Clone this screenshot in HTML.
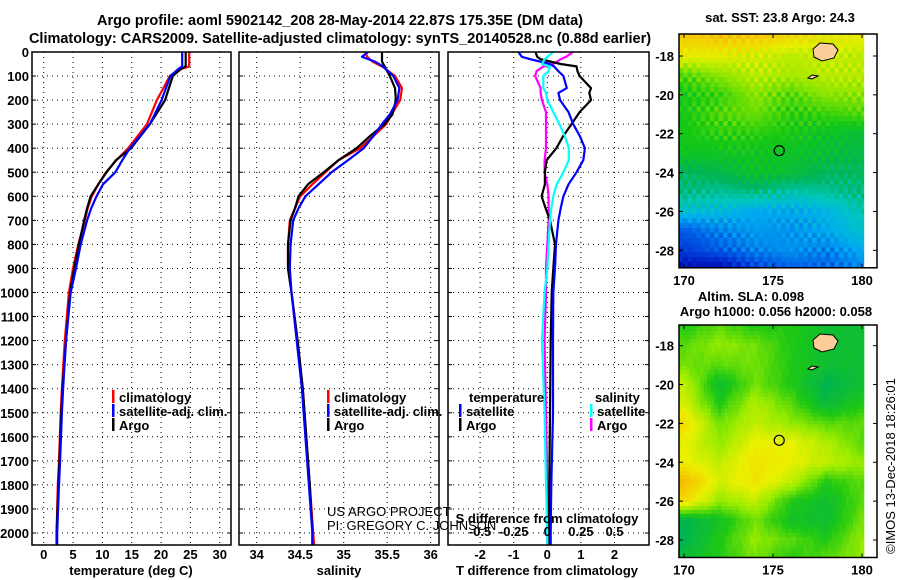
<!DOCTYPE html>
<html><head><meta charset="utf-8"><style>
body{margin:0;background:#fff}
svg{display:block;font-family:"Liberation Sans",sans-serif;font-weight:bold}
</style></head><body>
<svg id="c" width="900" height="580" xmlns="http://www.w3.org/2000/svg">
<text x="340" y="25" text-anchor="middle" font-size="14.5">Argo profile: aoml 5902142_208 28-May-2014 22.87S 175.35E (DM data)</text>
<text x="340" y="43" text-anchor="middle" font-size="14.5">Climatology: CARS2009. Satellite-adjusted climatology: synTS_20140528.nc (0.88d earlier)</text>
<g id="g"></g>
</svg>
<script>
// ---- data ----
const depthT = [0,60,70,100,200,300,400,450,500,550,600,650,700,800,900,1000,1200,1400,1500,1700,1800,2000,2050];
const tempClim = [24.8,24.8,23.5,21.5,19.3,17.6,14.4,12.4,10.6,9.3,8.2,7.5,7.0,5.9,5.0,4.3,3.6,3.1,2.9,2.6,2.4,2.2,2.2];
const tempSat  = [23.6,23.6,23.0,21.6,20.1,18.1,14.7,13.4,12.2,10.1,9.0,8.1,7.4,6.3,5.5,4.6,3.8,3.3,3.1,2.8,2.6,2.3,2.3];
const tempArgo = [24.2,24.2,23.4,22.0,20.7,18.1,14.9,12.3,10.7,9.3,8.0,7.4,6.9,6.0,5.2,4.5,3.8,3.2,3.0,2.7,2.5,2.2,2.2];
const depthS = [0,20,40,60,100,150,200,260,300,350,400,450,500,550,600,650,700,800,900,1000,1200,1400,1600,1800,2000,2050];
const salClim = [35.25,35.27,35.33,35.44,35.59,35.67,35.65,35.55,35.49,35.34,35.19,34.94,34.79,34.64,34.50,34.44,34.38,34.36,34.36,34.40,34.47,34.53,34.57,34.61,34.65,34.66];
const salSat  = [35.28,35.21,35.36,35.45,35.57,35.64,35.62,35.53,35.44,35.34,35.23,35.05,34.86,34.71,34.56,34.48,34.42,34.39,34.38,34.40,34.46,34.52,34.56,34.60,34.64,34.64];
const salArgo = [35.44,35.44,35.44,35.47,35.53,35.59,35.60,35.56,35.47,35.30,35.15,34.94,34.77,34.59,34.48,34.44,34.39,34.36,34.36,34.40,34.47,34.53,34.57,34.61,34.64,34.64];
const depthD = [0,20,30,50,60,80,100,150,170,200,250,300,350,400,450,500,550,600,650,700,800,900,1000,1200,1500,1800,2000,2050];
const dTArgo = [-0.35,-0.3,-0.2,0.4,0.87,0.9,0.96,1.3,1.25,1.3,0.96,0.72,0.47,0.27,-0.02,-0.07,-0.07,-0.17,-0.05,0.08,0.23,0.18,0.13,0.10,0.08,0.06,0.05,0.05];
const dTSat  = [-0.86,-0.76,-0.51,0.08,0.2,0.33,0.48,0.58,0.33,0.38,0.63,0.77,0.97,1.12,1.07,0.87,0.63,0.48,0.40,0.33,0.26,0.23,0.18,0.17,0.17,0.12,0.10,0.10];
const dSArgo = [0.19,0.14,0.1,0.045,-0.03,-0.08,-0.09,-0.05,-0.05,-0.04,-0.01,-0.01,-0.01,-0.01,-0.02,-0.02,0.0,0.01,0.01,0.01,0.0,-0.01,-0.01,-0.02,-0.01,0.0,0.0,0.0];
const dSSat  = [0.045,0.0,-0.02,-0.04,0.02,0.01,-0.03,-0.03,-0.01,0.0,0.045,0.09,0.13,0.16,0.16,0.12,0.07,0.045,0.03,0.02,0.01,0.0,-0.02,-0.04,-0.02,-0.01,0.0,0.0];
const depthTicks = [0,100,200,300,400,500,600,700,800,900,1000,1100,1200,1300,1400,1500,1600,1700,1800,1900,2000];
const tTicks = [0,5,10,15,20,25,30];
const sTicks = [34,34.5,35,35.5,36];
const dTTicks = [-2,-1,0,1,2];
const dSTicks = [-0.5,-0.25,0,0.25,0.5];
const dSLabels = ["-0.5","-0.25","0","0.25","0.5"];
const latTicks = [-18,-20,-22,-24,-26,-28];
const lonTicks = [170,175,180];
const sstGrid = [
[.82,.84,.83,.8,.76,.76],[.76,.75,.73,.7,.72,.7],[.6,.65,.7,.68,.7,.7],[.55,.58,.65,.6,.65,.65],
[.55,.6,.62,.57,.58,.6],[.55,.57,.57,.55,.52,.5],[.53,.53,.53,.52,.5,.48],[.45,.47,.52,.5,.45,.45],
[.42,.4,.42,.38,.4,.42],[.35,.33,.3,.3,.32,.38],[.2,.25,.28,.27,.3,.35],[.15,.2,.25,.27,.25,.3],[.06,.04,.15,.2,.2,.25]];
const slaGrid = [
[.55,.6,.55,.55,.5,.5],[.6,.65,.62,.55,.5,.5],[.62,.6,.62,.55,.5,.5],[.7,.5,.62,.55,.45,.5],
[.72,.55,.68,.6,.48,.55],[.8,.62,.7,.65,.6,.6],[.75,.65,.75,.75,.68,.6],[.75,.7,.78,.75,.7,.65],
[.88,.72,.78,.7,.55,.6],[.8,.65,.7,.55,.5,.6],[.45,.52,.62,.52,.5,.62],[.45,.55,.65,.6,.55,.65],[.5,.55,.62,.55,.6,.65]];
const argoLon = 175.35, argoLat = -22.87;

// ---- drawing ----
const NS="http://www.w3.org/2000/svg";
const G=document.getElementById('g');
function el(t,a,p){const e=document.createElementNS(NS,t);for(const k in a)e.setAttribute(k,a[k]);(p||G).appendChild(e);return e;}
function txt(x,y,s,fs,anchor,p){const e=el('text',{x:x,y:y,'font-size':fs,'text-anchor':anchor||'middle'},p);e.textContent=s;return e;}
const yD=d=>52+d*0.2405;
const Y0=52,Y1=545;
function panel(x0,x1,name){
  const g=el('g',{});
  
  
  return g;
}
function frame(g,x0,x1){el('rect',{x:x0,y:Y0,width:x1-x0,height:Y1-Y0,fill:'none',stroke:'#000','stroke-width':1.5},g);}
function hgrid(g,x0,x1){depthTicks.forEach(d=>{if(d>0)el('line',{x1:x0,x2:x1,y1:yD(d),y2:yD(d),stroke:'#000','stroke-width':1,'stroke-dasharray':'1,4'},g);
  el('line',{x1:x0,x2:x0+4,y1:yD(d),y2:yD(d),stroke:'#000'},g);el('line',{x1:x1-4,x2:x1,y1:yD(d),y2:yD(d),stroke:'#000'},g);});}
function vgrid(g,xs){xs.forEach(x=>{el('line',{x1:x,x2:x,y1:Y0,y2:Y1,stroke:'#000','stroke-width':1,'stroke-dasharray':'1,4'},g);});}
function step(g,xs,ds,col,name){
  let pts=[];for(let i=0;i<ds.length;i++){pts.push(xs[i].toFixed(1)+','+yD(ds[i]).toFixed(1));}
  const p=el('polyline',{points:pts.join(' '),fill:'none',stroke:col,'stroke-width':2.2,'stroke-linejoin':'round'},g);
  
  
}
const yl=el('g',{});


depthTicks.forEach(d=>txt(29,yD(d)+5,String(d),13,'end',yl));

// Panel 1 temperature
const xT=t=>43.7+t*5.867;
const p1=panel(32,231,'temperature-panel');
vgrid(p1,tTicks.map(xT));hgrid(p1,32,231);
step(p1,tempClim.map(xT),depthT,'#f00','climatology-temperature-line');
step(p1,tempArgo.map(xT),depthT,'#000','argo-temperature-line');
step(p1,tempSat.map(xT),depthT,'#00f','satellite-temperature-line');
frame(p1,32,231);
tTicks.forEach(t=>txt(xT(t),559,String(t),13,'middle',p1));
txt(131,575,'temperature (deg C)',13,'middle',p1);
function legend(g,x,y,items){items.forEach((it,i)=>{el('rect',{x:x,y:y+i*14-10,width:2.5,height:13,fill:it[0]},g);txt(x+7,y+i*14+2,it[1],13,'start',g);});}
legend(p1,112,400,[['#f00','climatology'],['#00f','satellite-adj. clim.'],['#000','Argo']]);

// Panel 2 salinity
const xS=s=>256.7+(s-34)*87;
const p2=panel(239,439,'salinity-panel');
vgrid(p2,sTicks.map(xS));hgrid(p2,239,439);
step(p2,salClim.map(xS),depthS,'#f00','climatology-salinity-line');
step(p2,salArgo.map(xS),depthS,'#000','argo-salinity-line');
step(p2,salSat.map(xS),depthS,'#00f','satellite-salinity-line');
frame(p2,239,439);
sTicks.forEach(s=>txt(xS(s),559,String(s),13,'middle',p2));
txt(339,575,'salinity',13,'middle',p2);
legend(p2,327,400,[['#f00','climatology'],['#00f','satellite-adj. clim.'],['#000','Argo']]);
const cr=el('g',{fill:'#000'});


txt(327,516,'US ARGO PROJECT',13,'start',cr).setAttribute('font-weight','normal');
txt(327,530,'PI: GREGORY C. JOHNSON',13,'start',cr).setAttribute('font-weight','normal');

// Panel 3 differences
const xDT=t=>547.3+t*33.6;
const xDS=s=>547.3+s*4*33.6;
const p3=panel(448,649,'difference-panel');
vgrid(p3,dTTicks.map(xDT));hgrid(p3,448,649);
step(p3,dSArgo.map(xDS),depthD,'#f0f','argo-salinity-diff-line');
step(p3,dTArgo.map(xDT),depthD,'#000','argo-temperature-diff-line');
step(p3,dTSat.map(xDT),depthD,'#00f','satellite-temperature-diff-line');
step(p3,dSSat.map(xDS),depthD,'#0ff','satellite-salinity-diff-line');
frame(p3,448,649);
dTTicks.forEach(t=>txt(xDT(t),559,String(t),13,'middle',p3));
txt(547,575,'T difference from climatology',13,'middle',p3);
txt(547,523,'S difference from climatology',13,'middle',p3);
dSTicks.forEach((s,i)=>txt(xDS(s),536,dSLabels[i],13,'middle',p3));
txt(469,402,'temperature',13,'start',p3);
legend(p3,459,414,[['#00f','satellite'],['#000','Argo']]);
txt(595,402,'salinity',13,'start',p3);
legend(p3,590,414,[['#0ff','satellite'],['#f0f','Argo']]);

// ---- maps ----
const xL=l=>684+(l-170)*17.8;
function cmap(v,stops){for(let i=1;i<stops.length;i++){if(v<=stops[i][0]){const a=stops[i-1],b=stops[i],f=(v-a[0])/(b[0]-a[0]);
  return 'rgb('+[1,2,3].map(k=>Math.round(a[k]+(b[k]-a[k])*f)).join(',')+')';}}const s=stops[stops.length-1];return 'rgb('+s[1]+','+s[2]+','+s[3]+')';}
const sstStops=[[0,0,0,140],[0.1,0,30,200],[0.2,0,90,230],[0.3,0,170,240],[0.37,0,200,190],[0.45,0,180,90],[0.55,20,200,20],[0.65,140,230,0],[0.75,230,240,0],[0.85,250,190,0],[0.95,240,130,0],[1,230,80,0]];
const slaStops=[[0,0,100,200],[0.35,0,180,150],[0.45,0,180,80],[0.55,30,200,20],[0.65,150,235,0],[0.75,235,240,0],[0.85,245,200,0],[0.95,240,150,0],[1,230,100,0]];
function grid(gr,lon,lat){const fy=(-17-lat),fx=(lon-170)/2;const r0=Math.max(0,Math.min(11,Math.floor(fy))),c0=Math.max(0,Math.min(4,Math.floor(fx)));
  const ty=Math.max(0,Math.min(1,fy-r0)),tx=Math.max(0,Math.min(1,fx-c0));
  return gr[r0][c0]*(1-ty)*(1-tx)+gr[r0][c0+1]*(1-ty)*tx+gr[r0+1][c0]*ty*(1-tx)+gr[r0+1][c0+1]*ty*tx;}
function drawMap(top,yLat,gr,stops,noise,name,cell){
  const g=el('g',{});
  
  
  const yl2=l=>yLat+(-18-l)*19.43;
  const x0=679,x1=877,y1=yl2(-28.9);
  el('rect',{x:x0,y:top,width:x1-x0,height:y1-top,fill:'#fff'},g);
  for(let lat=-16.85;lat>-28.9;lat-=cell){for(let lon=169.7;lon<180.1;lon+=cell){
    let v=grid(gr,lon+cell/2,lat-cell/2);
    v+=noise*(Math.sin(lon*37.1+lat*91.7)*0.5+Math.sin(lon*13.3-lat*57.9)*0.5);
    const xa=Math.max(x0,xL(lon)),xb=Math.min(xL(180.1),xL(lon+cell)),ya=Math.max(top,yl2(lat)),yb=Math.min(y1,yl2(lat-cell));
    if(xb>xa&&yb>ya)el('rect',{x:xa,y:ya,width:xb-xa+0.4,height:yb-ya+0.4,fill:cmap(v,stops)},g);}}
  el('path',{d:`M813 ${top+15} L820 ${top+9} L833 ${top+10} L838 ${top+16} L834 ${top+24} L822 ${top+27} L814 ${top+23} Z`,fill:'#fccc99',stroke:'#000','stroke-width':1},g);
  el('path',{d:`M808 ${top+44} L812 ${top+41} L818 ${top+42} L812 ${top+45} Z`,fill:'#fccc99',stroke:'#000','stroke-width':1},g);
  el('rect',{x:x0,y:top,width:x1-x0,height:y1-top,fill:'none',stroke:'#000','stroke-width':1.5},g);
  const c=el('circle',{cx:xL(argoLon),cy:yl2(argoLat),r:5,fill:'none',stroke:'#000','stroke-width':1.2},g);
  
  
  latTicks.forEach(l=>{txt(674,yl2(l)+5,String(l),13,'end',g);el('line',{x1:x0,x2:x0+4,y1:yl2(l),y2:yl2(l),stroke:'#000'},g);el('line',{x1:x1-4,x2:x1,y1:yl2(l),y2:yl2(l),stroke:'#000'},g);});
  lonTicks.forEach(l=>{txt(xL(l),y1+17,String(l),13,'middle',g);el('line',{x1:xL(l),x2:xL(l),y1:top,y2:top+4,stroke:'#000'},g);el('line',{x1:xL(l),x2:xL(l),y1:y1-4,y2:y1,stroke:'#000'},g);});
}
drawMap(34,56,sstGrid,sstStops,0.035,'sst-map',0.25);
drawMap(325,345.7,slaGrid,slaStops,0.01,'sla-map',0.2);
txt(780,22,'sat. SST: 23.8 Argo: 24.3',13,'middle');
txt(751,301,'Altim. SLA: 0.098',13,'middle');
txt(776,316,'Argo h1000: 0.056 h2000: 0.058',13,'middle');
const cp=txt(0,0,'©IMOS 13-Dec-2018 18:26:01',13,'middle');
cp.setAttribute('transform','translate(895,466) rotate(-90)');
cp.setAttribute('font-weight','normal');


</script>
</body></html>
